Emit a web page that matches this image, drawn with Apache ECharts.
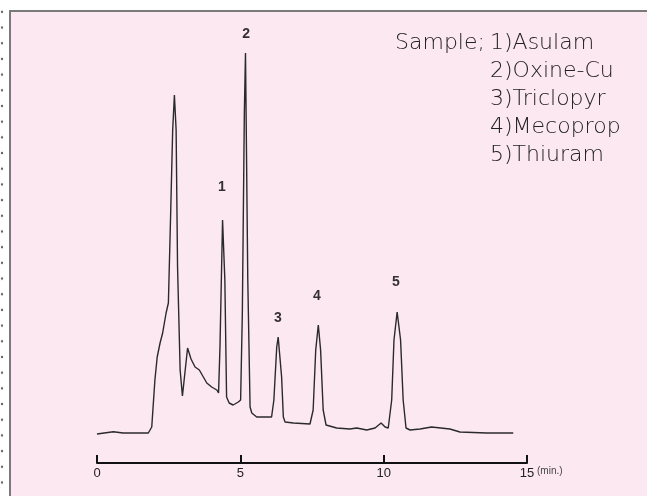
<!DOCTYPE html>
<html>
<head>
<meta charset="utf-8">
<script src="https://cdn.jsdelivr.net/npm/echarts@6/dist/echarts.min.js"></script>
<style>
  html, body { margin: 0; padding: 0; background: #fff; }
  #wrap { position: relative; width: 647px; height: 496px; overflow: hidden; }
  #dots { position: absolute; left: 0; top: 4px; width: 4px; height: 492px;
    background: radial-gradient(circle, #666 1.2px, transparent 1.6px) 0 0 / 4px 15.7px repeat-y; }
  #panel { position: absolute; left: 9px; top: 10px; right: 0; bottom: 0;
    background: #fce8f0; border-top: 2px solid #7a7a7a; border-left: 2px solid #7a7a7a; }
  #chart { position: absolute; left: 0; top: 0; width: 647px; height: 496px; }
</style>
</head>
<body>
<div id="wrap">
  <div id="dots"></div>
  <div id="panel"></div>
  <div id="chart"></div>
</div>
<script>
// retention time (min) and detector response
const times = [0.00, 0.57, 0.91, 1.79, 1.91, 2.02, 2.10, 2.20, 2.29, 2.41, 2.49, 2.57, 2.64, 2.70, 2.76, 2.81, 2.90, 2.98,
  3.04, 3.16, 3.28, 3.42, 3.57, 3.71, 3.83, 4.00, 4.18, 4.24, 4.29, 4.38, 4.46, 4.52, 4.61, 4.75, 4.93, 5.01, 5.07,
  5.14, 5.18, 5.26, 5.34, 5.40, 5.57, 5.92, 6.09, 6.17, 6.27, 6.32, 6.44, 6.50, 6.56, 6.85, 7.43, 7.54, 7.63, 7.72,
  7.80, 7.89, 7.99, 8.36, 8.82, 9.06, 9.41, 9.70, 9.91, 10.05, 10.16, 10.28, 10.36, 10.47, 10.59, 10.68, 10.78,
  10.92, 11.27, 11.67, 12.31, 12.66, 13.59, 14.52]
const response = [-1, 1.3, 0, 0, 6, 53, 76, 90, 100, 120, 130, 220, 303, 338, 303, 166, 63, 37,
  53, 85, 74, 66, 63, 56, 50, 46, 43, 40, 86, 213, 153, 36, 30, 28, 31, 33, 120,
  320, 380, 153, 26, 20, 16, 16, 16, 33, 86, 96, 56, 16, 11, 10, 9, 23, 83, 108,
  83, 23, 8, 5, 4, 5, 3, 5, 10, 6, 5, 33, 93, 121, 93, 33, 5,
  3, 4, 6, 4, 1, 0, 0]

// peak annotations
const peakLabels = ['1', '2', '3', '4', '5']
const peakLabelTimes = [4.36, 5.20, 6.31, 7.67, 10.43]
const peakLabelLevels = [246, 399, 115, 137, 151]

const xTicks = [0, 5, 10, 15]
const sampleNames = ['1)Asulam', '2)Oxine-Cu', '3)Triclopyr', '4)Mecoprop', '5)Thiuram']

const chart = echarts.init(document.getElementById('chart'))

chart.setOption({
  backgroundColor: 'transparent',
  animation: false,
  grid: { left: 97, right: 120, top: 13, bottom: 43 },
  xAxis: {
    type: 'value',
    min: 0,
    max: 15,
    interval: 5,
    offset: 10,
    axisLine: { onZero: false, lineStyle: { color: '#111', width: 2 } },
    axisTick: { show: true, inside: true, length: 8, lineStyle: { color: '#111', width: 2 } },
    axisLabel: {
      margin: 4,
      color: '#222',
      fontSize: 13,
      fontFamily: 'Liberation Sans',
      formatter: v => (xTicks.includes(v) ? String(v) : '')
    },
    splitLine: { show: false }
  },
  yAxis: {
    type: 'value',
    min: -20,
    max: 420,
    show: false
  },
  series: [
    {
      type: 'line',
      data: times.map((t, i) => [t, response[i]]),
      showSymbol: false,
      smooth: false,
      lineStyle: { color: '#2a2a2a', width: 1.4 },
      z: 3
    },
    {
      type: 'scatter',
      data: peakLabels.map((n, i) => ({ name: n, value: [peakLabelTimes[i], peakLabelLevels[i]] })),
      symbolSize: 0,
      label: {
        show: true,
        position: 'inside',
        formatter: p => p.name,
        color: '#000',
        fontSize: 14,
        fontWeight: 'bold',
        fontFamily: 'Liberation Sans'
      }
    }
  ],
  graphic: [
    {
      type: 'text',
      left: 537,
      top: 466,
      style: { text: '(min.)', fill: '#444', font: '10px "Liberation Sans"' }
    },
    {
      type: 'text',
      left: 395,
      top: 29,
      style: { text: 'Sample;', fill: '#222', font: '200 22px "DejaVu Sans"', lineHeight: 28 }
    },
    {
      type: 'text',
      left: 490,
      top: 29,
      style: { text: sampleNames.join('\n'), fill: '#222', font: '200 22px "DejaVu Sans"', lineHeight: 28 }
    }
  ]
})
</script>
</body>
</html>
